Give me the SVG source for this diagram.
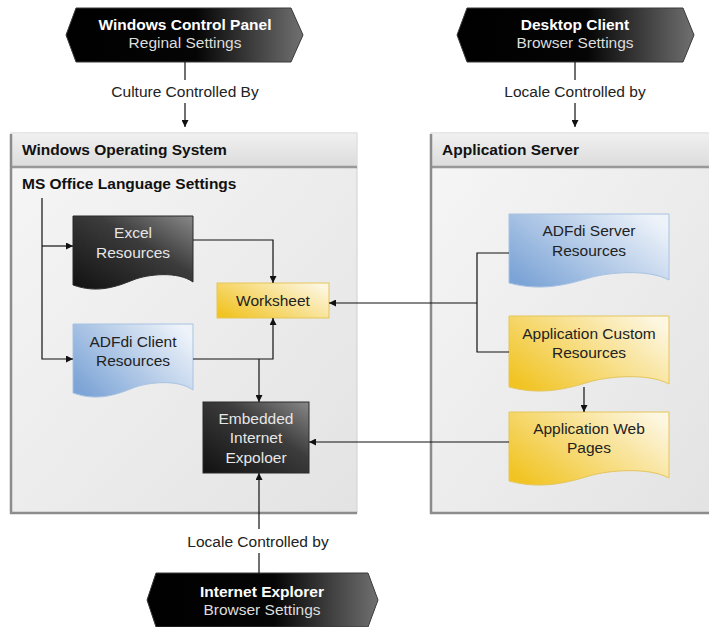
<svg xmlns="http://www.w3.org/2000/svg" width="709" height="627" viewBox="0 0 709 627">
<defs>
<linearGradient id="gHex" x1="0" y1="0" x2="1" y2="0">
<stop offset="0" stop-color="#000"/><stop offset="0.55" stop-color="#050505"/><stop offset="1" stop-color="#707070"/>
</linearGradient>
<linearGradient id="gDark" x1="0" y1="1" x2="1" y2="0">
<stop offset="0" stop-color="#111"/><stop offset="0.6" stop-color="#3c3c3c"/><stop offset="1" stop-color="#888"/>
</linearGradient>
<linearGradient id="gBlue" x1="0" y1="0.8" x2="1" y2="0.2">
<stop offset="0" stop-color="#7ca4d6"/><stop offset="1" stop-color="#eef3fa"/>
</linearGradient>
<linearGradient id="gYellow" x1="0" y1="0.8" x2="1" y2="0.2">
<stop offset="0" stop-color="#f1c424"/><stop offset="1" stop-color="#fdf6e0"/>
</linearGradient>
<linearGradient id="gPanel" x1="0" y1="0" x2="1" y2="1">
<stop offset="0" stop-color="#f6f6f6"/><stop offset="1" stop-color="#e3e3e3"/>
</linearGradient>
<linearGradient id="gHead" x1="0" y1="0" x2="0" y2="1">
<stop offset="0" stop-color="#f0f0f0"/><stop offset="1" stop-color="#dcdcdc"/>
</linearGradient>
<marker id="arr" viewBox="0 0 10 10" refX="10" refY="5" markerWidth="7" markerHeight="7" markerUnits="userSpaceOnUse" orient="auto">
<path d="M0,0 L10,5 L0,10 Z" fill="#111"/>
</marker>
</defs>
<style>
text{font-family:"Liberation Sans",Arial,sans-serif;font-size:15.5px;text-anchor:middle}
.b{font-weight:bold}
.hT{fill:#fff;font-weight:bold}
.hS{fill:#ddd}
.lbl{fill:#222}
.pT{fill:#111;font-weight:bold;text-anchor:start}
.dT{fill:#e6e6e6}
.nT{fill:#222}
.hex{fill:url(#gHex);stroke:#3a3a3a;stroke-width:1}
.panel{fill:url(#gPanel);stroke:#d0d0d0;stroke-width:1}
.pShadow{fill:none;stroke:#8c8c8c;stroke-width:2.5}
.head{fill:url(#gHead)}
.headLine{stroke:#999;stroke-width:2.5}
.dark{fill:url(#gDark);stroke:#2a2a2a;stroke-width:1}
.blue{fill:url(#gBlue);stroke:#a8c2e2;stroke-width:1}
.yellow{fill:url(#gYellow);stroke:#e5c55a;stroke-width:1}
.conn path{fill:none;stroke:#111;stroke-width:1.2}
</style>

<g id="panel-windows">
<rect class="panel" x="11" y="133" width="346" height="380"/>
<rect class="head" x="11.5" y="133.5" width="345" height="33"/>
<line class="headLine" x1="11" y1="167" x2="357" y2="167"/>
<path class="pShadow" d="M11,134 V513 H357"/>
<text class="pT" x="22" y="155">Windows Operating System</text>
<text class="pT" x="22" y="189">MS Office Language Settings</text>
</g>

<g id="panel-appserver">
<rect class="panel" x="431" y="133" width="280" height="380"/>
<rect class="head" x="431.5" y="133.5" width="279" height="33"/>
<line class="headLine" x1="431" y1="167" x2="709" y2="167"/>
<path class="pShadow" d="M431,134 V513 H709"/>
<text class="pT" x="442" y="155">Application Server</text>
</g>

<g id="hex-control-panel">
<polygon class="hex" points="66,35 76,8 291,8 303,35 291,62 76,62"/>
<text class="hT" x="185" y="30">Windows Control Panel</text>
<text class="hS" x="185" y="48">Reginal Settings</text>
</g>

<g id="hex-desktop-client">
<polygon class="hex" points="457,35 467,8 683,8 694,35 683,62 467,62"/>
<text class="hT" x="575" y="30">Desktop Client</text>
<text class="hS" x="575" y="48">Browser Settings</text>
</g>

<g id="hex-internet-explorer">
<polygon class="hex" points="147,600 156,573 368,573 378,600 368,627 156,627"/>
<text class="hT" x="262" y="597">Internet Explorer</text>
<text class="hS" x="262" y="615">Browser Settings</text>
</g>

<g id="excel-resources">
<path class="dark" d="M73,216 H193 V282 C178,271 148,274 133,280 C118,286 98,294 73,285 Z"/>
<text class="dT" x="133" y="238">Excel</text>
<text class="dT" x="133" y="258">Resources</text>
</g>

<g id="adfdi-client">
<path class="blue" d="M73,324 H193 V390 C178,379 148,382 133,388 C118,394 98,402 73,393 Z"/>
<text class="nT" x="133" y="347">ADFdi Client</text>
<text class="nT" x="133" y="366">Resources</text>
</g>

<g id="worksheet">
<rect class="yellow" x="217" y="283" width="112" height="35"/>
<text class="nT" x="273" y="306">Worksheet</text>
</g>

<g id="embedded-ie">
<rect class="dark" x="203" y="402" width="106" height="71"/>
<text class="dT" x="256" y="424">Embedded</text>
<text class="dT" x="256" y="443">Internet</text>
<text class="dT" x="256" y="463">Expoloer</text>
</g>

<g id="adfdi-server">
<path class="blue" d="M509,214 H669 V280 C649,269 609,272 589,278 C569,284 542,292 509,283 Z"/>
<text class="nT" x="589" y="236">ADFdi Server</text>
<text class="nT" x="589" y="256">Resources</text>
</g>

<g id="app-custom">
<path class="yellow" d="M509,316 H669 V384 C649,373 609,376 589,382 C569,388 542,396 509,387 Z"/>
<text class="nT" x="589" y="339">Application Custom</text>
<text class="nT" x="589" y="358">Resources</text>
</g>

<g id="app-web-pages">
<path class="yellow" d="M509,412 H669 V478 C649,467 609,470 589,476 C569,482 542,490 509,481 Z"/>
<text class="nT" x="589" y="434">Application Web</text>
<text class="nT" x="589" y="453">Pages</text>
</g>

<g id="connectors" class="conn">
<path d="M185,62 V80"/>
<path d="M185,103 V127" marker-end="url(#arr)"/>
<text class="lbl" x="185" y="97">Culture Controlled By</text>
<path d="M575,62 V80"/>
<path d="M575,103 V127" marker-end="url(#arr)"/>
<text class="lbl" x="575" y="97">Locale Controlled by</text>
<path d="M42,198 V359 H73" marker-end="url(#arr)"/>
<path d="M42,246 H73" marker-end="url(#arr)"/>
<path d="M193,240 H273 V283" marker-end="url(#arr)"/>
<path d="M193,359 H273 V318" marker-end="url(#arr)"/>
<path d="M259,359 V402" marker-end="url(#arr)"/>
<path d="M509,253 H477 V352 H509"/>
<path d="M477,303 H329" marker-end="url(#arr)"/>
<path d="M584,387 V412" marker-end="url(#arr)"/>
<path d="M509,442 H309" marker-end="url(#arr)"/>
<path d="M259,529 V473" marker-end="url(#arr)"/>
<path d="M259,553 V573"/>
<text class="lbl" x="258" y="547">Locale Controlled by</text>
</g>
</svg>
